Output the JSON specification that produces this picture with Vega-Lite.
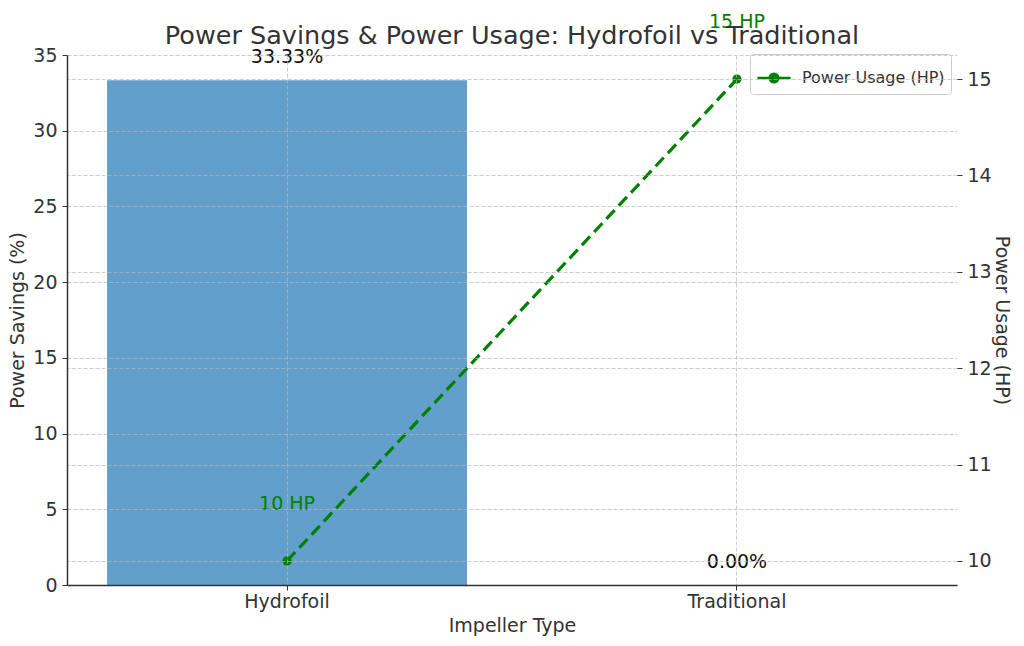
{
  "$schema": "https://vega.github.io/schema/vega-lite/v6.json",
  "width": 890,
  "height": 530,
  "autosize": "none",
  "padding": {"left": 67, "top": 55, "right": 67, "bottom": 61},
  "title": {
    "text": "Power Savings & Power Usage: Hydrofoil vs Traditional",
    "fontSize": 25.5,
    "fontWeight": "normal",
    "color": "#333333",
    "offset": -36
  },
  "data": {
    "values": [
      {"Impeller": "Hydrofoil", "Savings": 33.33, "HP": 10, "SavingsLabel": "33.33%", "HPLabel": "10 HP"},
      {"Impeller": "Traditional", "Savings": 0, "HP": 15, "SavingsLabel": "0.00%", "HPLabel": "15 HP"}
    ]
  },
  "encoding": {
    "x": {
      "field": "Impeller",
      "type": "nominal",
      "title": "Impeller Type",
      "sort": null,
      "scale": {"paddingInner": 0.2, "paddingOuter": 0.089},
      "axis": {"labelAngle": 0, "grid": true, "zindex": 1, "labelPadding": 2, "titlePadding": 5}
    }
  },
  "layer": [
    {
      "encoding": {
        "y": {
          "field": "Savings",
          "type": "quantitative",
          "title": "Power Savings (%)",
          "scale": {"domain": [0, 35], "nice": false},
          "axis": {"values": [0, 5, 10, 15, 20, 25, 30, 35], "grid": true, "zindex": 1, "titlePadding": 5}
        }
      },
      "layer": [
        {"mark": {"type": "bar", "color": "#62a0cb"}},
        {
          "mark": {"type": "text", "fontSize": 19, "color": "#111111", "baseline": "alphabetic", "dy": -17, "clip": false},
          "encoding": {"text": {"field": "SavingsLabel"}}
        }
      ]
    },
    {
      "encoding": {
        "y": {
          "field": "HP",
          "type": "quantitative",
          "title": "Power Usage (HP)",
          "scale": {"domain": [9.75, 15.25], "nice": false, "zero": false},
          "axis": {"orient": "right", "values": [10, 11, 12, 13, 14, 15], "grid": true, "domain": false, "zindex": 1, "titlePadding": 0}
        }
      },
      "layer": [
        {
          "mark": {"type": "line", "strokeWidth": 3.2, "strokeDash": [12, 6], "point": {"size": 85, "filled": true}},
          "encoding": {
            "color": {
              "datum": "Power Usage (HP)",
              "type": "nominal",
              "scale": {"range": ["#008000"]},
              "legend": {
                "title": null,
                "orient": "none",
                "legendX": 683,
                "legendY": -1,
                "labelFontSize": 16,
                "labelColor": "#333333",
                "symbolType": "M-1,0L1,0M0.26,0A0.26,0.26,0,1,1,-0.26,0A0.26,0.26,0,1,1,0.26,0Z",
                "symbolSize": 1100,
                "symbolStrokeWidth": 2.5,
                "symbolFillColor": "#008000",
                "symbolStrokeColor": "#008000",
                "strokeColor": "#cccccc",
                "fillColor": "white",
                "cornerRadius": 3,
                "padding": 6,
                "labelOffset": 10
              }
            }
          }
        },
        {
          "mark": {"type": "text", "fontSize": 19, "color": "#008000", "baseline": "alphabetic", "dy": -51, "clip": false},
          "encoding": {"text": {"field": "HPLabel"}}
        }
      ]
    }
  ],
  "resolve": {"scale": {"y": "independent"}},
  "config": {
    "font": "DejaVu Sans",
    "view": {"stroke": null},
    "axis": {
      "labelFontSize": 19,
      "labelColor": "#333333",
      "titleFontSize": 19,
      "titleFontWeight": "normal",
      "titleColor": "#333333",
      "domainColor": "#333333",
      "domainWidth": 1.5,
      "tickColor": "#333333",
      "tickSize": 5,
      "labelPadding": 5,
      "gridColor": "#b8b8b8",
      "gridOpacity": 0.7,
      "gridDash": [4, 2]
    }
  }
}
